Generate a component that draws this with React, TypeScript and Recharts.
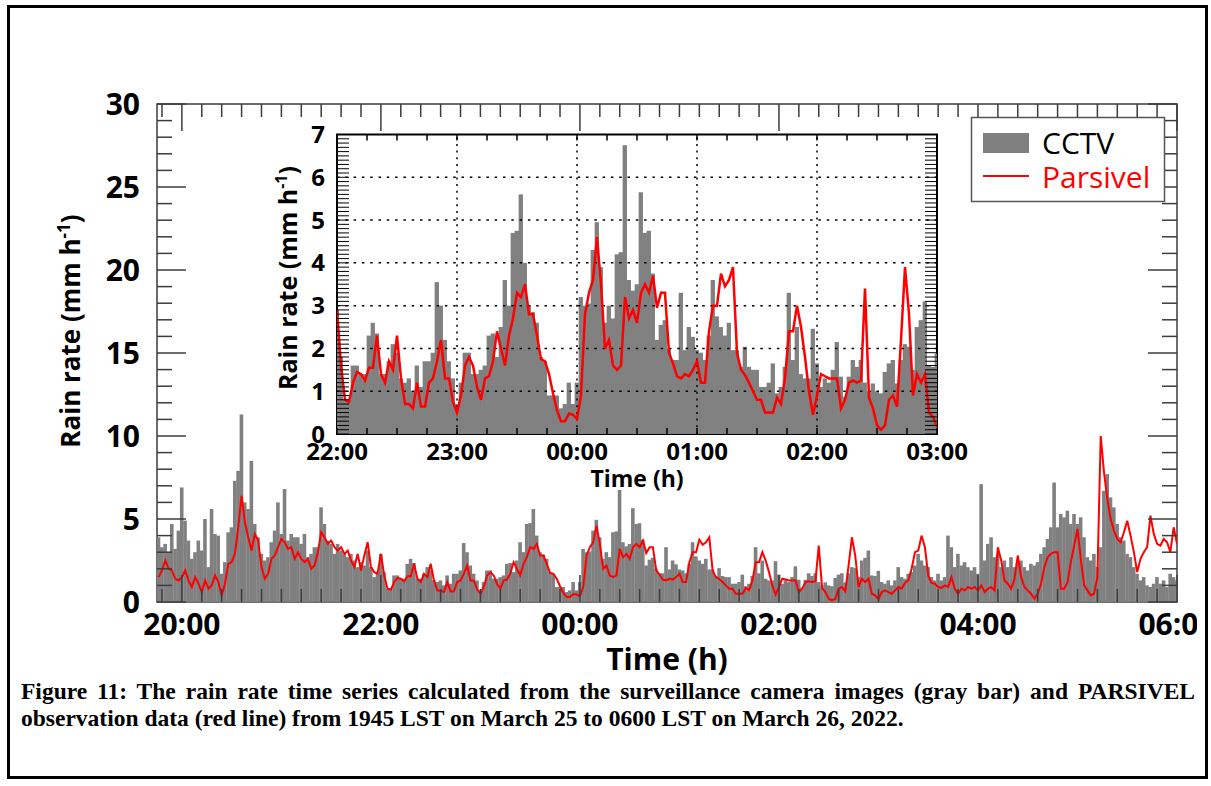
import React from 'react';
import { ComposedChart, Bar, Line, XAxis, YAxis, ReferenceLine, ReferenceArea } from 'recharts';

// time axis: minutes after 20:00, one sample every 2 minutes starting at 19:46
const START_MIN = -14;
const STEP_MIN = 2;

// CCTV rain rate (mm/h), 19:46 .. 06:00
const cctv = [
  3.9, 3.3, 3.5, 3.0, 4.7, 3.2, 4.3, 6.9, 4.9, 3.7,
  2.6, 3.0, 3.7, 3.1, 5.0, 2.1, 5.6, 4.1, 4.0, 1.7,
  2.4, 4.2, 4.5, 7.3, 7.9, 11.3, 6.0, 5.6, 8.5, 4.7,
  3.9, 2.9, 2.5, 2.7, 3.6, 4.3, 6.0, 4.1, 6.8, 3.7,
  4.1, 3.9, 3.9, 3.5, 4.1, 2.7, 2.9, 3.3, 3.3, 5.7,
  4.7, 3.7, 3.5, 2.9, 3.5, 3.1, 2.9, 2.7, 2.9, 2.5,
  2.1, 2.4, 2.2, 3.1, 2.1, 1.5, 1.7,
  2.9, 1.8, 0.8, 0.8, 1.6, 1.6, 1.4, 1.4, 2.3, 2.6,
  2.35, 1.4, 1.4, 1.7, 2.1, 1.9, 1.3, 1.2, 1.3, 1.0,
  1.6, 1.1, 1.7, 1.7, 1.9, 3.55, 3.0, 2.2, 1.7, 1.3,
  0.7, 1.2, 1.9, 1.9, 1.4, 1.4, 1.5, 1.6, 2.3, 2.35,
  1.8, 2.5, 3.6, 3.0, 4.7, 4.75, 5.6, 4.0, 3.0, 2.85,
  2.6, 1.8, 1.7, 0.9, 0.9, 0.9, 0.6, 0.7, 1.2, 0.7,
  1.2, 3.2, 3.0, 3.05, 4.3, 4.95, 3.9, 2.6, 3.0, 2.7,
  4.2, 4.25, 6.75, 3.6, 3.35, 3.5, 5.65, 4.7, 4.75, 3.75,
  2.2, 2.55, 2.66, 2.0, 1.73, 1.73, 3.3, 1.96, 2.5, 2.27,
  1.96, 1.9, 1.73, 2.3, 3.6, 2.75, 2.5, 2.3, 2.6, 1.96,
  1.96, 1.57, 2.04, 1.57, 1.5, 1.5, 1.1, 1.1, 1.2, 1.65,
  0.95, 1.1, 1.57, 3.3, 1.73, 2.5, 1.4, 1.3, 1.3, 2.46,
  1.65, 1.1, 1.3, 1.2, 1.5, 2.15, 1.34, 0.87, 1.34, 1.73,
  1.57, 1.73, 1.2, 1.0, 1.18, 1.0, 0.95, 1.45, 1.65, 1.73,
  1.18, 1.73, 2.1, 2.04, 1.5, 2.5, 2.66, 3.1, 1.6, 1.57, 1.88,
  1.2, 1.1, 1.3, 1.0, 1.3, 2.1, 1.5, 1.4, 1.7, 1.8,
  2.2, 2.9, 2.5, 2.2, 2.1, 1.5, 1.3, 1.7, 1.3, 1.5,
  4.0, 3.3, 2.1, 2.9, 2.2, 2.4, 2.1, 1.9, 2.1, 1.7,
  7.1, 2.5, 3.5, 3.9, 2.7, 2.9, 2.1, 2.5, 2.1, 2.7,
  2.1, 2.5, 2.5, 2.1, 1.9, 2.3, 2.2, 2.4, 2.9, 3.3,
  3.8, 4.5, 7.2, 4.5, 5.3, 5.1, 5.5, 4.7, 5.3, 4.7,
  5.1, 3.9, 2.7, 2.5, 2.9, 2.1, 3.3, 6.7, 7.7, 6.3,
  5.7, 4.7, 3.9, 3.7, 2.9, 2.7, 2.1, 1.7, 1.3, 1.5,
  1.0, 0.9, 1.1, 1.5, 1.1, 1.3, 0.9, 1.7, 1.5, 1.3,
];

// PARSIVEL rain rate (mm/h), same time steps
const parsivel = [
  1.5, 1.9, 2.5, 2.0, 1.9, 1.4, 1.3, 1.5, 1.9, 1.3,
  0.9, 1.5, 1.1, 0.6, 1.3, 0.8, 1.0, 1.6, 1.2, 0.4,
  1.1, 2.3, 2.4, 2.9, 4.5, 6.4, 4.8, 3.9, 3.1, 4.1,
  3.7, 2.1, 1.4, 1.7, 2.6, 2.8, 3.3, 3.8, 3.6, 3.2,
  3.3, 2.6, 3.0, 2.6, 2.4, 2.6, 2.0, 2.2, 3.0, 4.2,
  3.9, 3.5, 3.7, 3.3, 3.1, 3.3, 2.9, 3.1, 2.5, 2.1,
  2.9, 1.9, 2.8, 3.6, 2.1, 1.8, 1.7,
  2.9, 1.6, 0.8, 0.75, 1.2, 1.45, 1.4, 1.25, 1.55, 1.55,
  2.3, 1.4, 1.2, 1.7, 1.5, 2.3, 1.3, 0.7, 0.7, 0.6,
  1.2, 0.64, 0.64, 1.2, 1.3, 1.7, 2.2, 1.3, 1.3, 0.75,
  0.5, 0.9, 1.6, 1.8, 1.6, 1.1, 0.8, 1.3, 1.35, 1.7,
  2.4, 2.0, 1.6, 2.3, 2.7, 3.3, 3.2, 3.5, 2.8, 2.8,
  2.3, 1.75, 1.7, 1.4, 0.95, 0.55, 0.3, 0.3, 0.48, 0.45,
  0.35, 0.9, 2.8, 3.3, 3.6, 4.6, 3.5, 2.0, 2.2, 1.6,
  1.5, 1.6, 3.2, 2.7, 2.9, 2.6, 3.3, 3.5, 3.3, 3.7,
  2.95, 3.3, 3.3, 1.9, 1.65, 1.35, 1.3, 1.4, 1.35, 1.5,
  1.7, 1.2, 1.2, 2.4, 3.0, 3.0, 3.75, 3.45, 3.6, 3.9,
  1.9, 1.5, 1.38, 1.2, 1.0, 0.8, 0.8, 0.5, 0.5, 0.5,
  0.85, 0.7, 1.3, 2.4, 2.4, 3.0, 2.5, 1.8, 1.0, 0.45,
  0.9, 1.4, 1.35, 1.3, 1.3, 1.3, 0.6, 0.8, 1.2, 1.25,
  1.2, 1.25, 3.4, 0.85, 0.6, 0.2, 0.1, 0.2, 0.8, 0.9,
  0.64, 2.2, 3.9, 2.8, 0.9, 1.4, 1.2, 1.4, 0.5, 0.4, 0.17,
  0.6, 0.7, 0.6, 0.5, 0.7, 0.9, 0.8, 1.15, 1.3, 2.0,
  3.0, 3.1, 4.0, 3.3, 1.6, 1.15, 1.1, 0.9, 0.85, 1.0,
  0.9, 1.5, 0.8, 0.5, 0.8, 0.7, 0.9, 0.8, 0.9, 0.7,
  1.0, 0.6, 0.8, 0.9, 0.7, 3.3, 2.5, 1.3, 1.1, 0.8,
  1.4, 2.8, 1.5, 0.9, 0.7, 0.5, 0.2, 0.5, 1.1, 2.1,
  2.7, 2.9, 3.0, 3.0, 0.8, 0.8, 1.2, 2.4, 3.4, 4.4,
  2.6, 1.0, 0.7, 0.4, 0.5, 1.5, 10.0, 7.8, 6.2, 5.0,
  4.3, 3.8, 3.6, 4.2, 4.9, 4.0, 3.0, 1.8, 2.6, 3.0,
  3.3, 5.2, 4.1, 3.5, 3.4, 3.8, 3.6, 3.0, 4.5, 3.5,
];

// main axis labels
const mainMajorMinutes = [0, 120, 240, 360, 480, 600];
const mainTimeLabels = ['20:00', '22:00', '00:00', '02:00', '04:00', '06:00'];
const mainYLabels = [0, 5, 10, 15, 20, 25, 30];

// inset axis labels
const insetMajorMinutes = [120, 180, 240, 300, 360, 420];
const insetTimeLabels = ['22:00', '23:00', '00:00', '01:00', '02:00', '03:00'];
const insetYLabels = [0, 1, 2, 3, 4, 5, 6, 7];
const insetGridMinutes = [180, 240, 300, 360];
const insetGridValues = [1, 2, 3, 4, 5, 6];

const data = cctv.map((v, i) => ({ t: START_MIN + STEP_MIN * i, cctv: v, parsivel: parsivel[i] }));
const insetData = data.filter((d) => d.t >= 120 && d.t <= 420);

const range = (a: number, b: number, s: number) => {
  const out: number[] = [];
  for (let k = 0; a + k * s <= b + 1e-9; k++) out.push(Math.round((a + k * s) * 100) / 100);
  return out;
};
const mainXTicks = range(-12, 600, 12);
const mainYTicks = range(0, 30, 1);
const insetXTicks = range(120, 420, 15);
const insetYTicks = range(0, 7, 0.1);

const MAIN = { left: 157, right: 1177, top: 104, bottom: 602 };
const INSET = { left: 337, right: 937, top: 134.5, bottom: 434 };
const AXIS = '#3c3c3c';
const FONT = '"Open Sans", "Noto Sans", sans-serif';
const GRAY = '#808080';
const RED = '#ff0000';

// bar drawn around the centre the library computed, a bit wider so neighbours touch
const makeBarShape = (w: number) => (p: any) => {
  if (p == null || p.height == null || !isFinite(p.height) || p.height <= 0) return <g />;
  const cx = p.x + p.width / 2;
  return <rect x={cx - w / 2} y={p.y} width={w} height={p.height} fill={GRAY} />;
};
const mainBarShape = makeBarShape(3.6);
const insetBarShape = makeBarShape(4.3);

function MainXTick(props: any) {
  const { x, payload } = props;
  const idx = mainMajorMinutes.indexOf(payload.value);
  const len = idx >= 0 ? 27 : 13;
  return (
    <g>
      <line x1={x} x2={x} y1={MAIN.bottom} y2={MAIN.bottom - len} stroke={AXIS} strokeWidth={1.5} />
      <line x1={x} x2={x} y1={MAIN.top} y2={MAIN.top + len} stroke={AXIS} strokeWidth={1.5} />
      {idx >= 0 && (
        <text x={x} y={MAIN.bottom + 33} textAnchor="middle" fontFamily={FONT} fontWeight={700} fontSize={30} fill="#000">
          {mainTimeLabels[idx]}
        </text>
      )}
    </g>
  );
}

function MainYTick(props: any) {
  const { y, payload } = props;
  const major = mainYLabels.indexOf(payload.value) >= 0;
  const len = major ? 29 : 15;
  return (
    <g>
      <line x1={MAIN.left} x2={MAIN.left + len} y1={y} y2={y} stroke={AXIS} strokeWidth={1.5} />
      <line x1={MAIN.right - len} x2={MAIN.right} y1={y} y2={y} stroke={AXIS} strokeWidth={1.5} />
      {major && (
        <text x={140} y={y + 10.5} textAnchor="end" fontFamily={FONT} fontWeight={700} fontSize={30} fill="#000">
          {payload.value}
        </text>
      )}
    </g>
  );
}

function InsetXTick(props: any) {
  const { x, payload } = props;
  const idx = insetMajorMinutes.indexOf(payload.value);
  return (
    <g>
      <line x1={x} x2={x} y1={INSET.bottom} y2={INSET.bottom - 6} stroke="#000" strokeWidth={1.5} />
      <line x1={x} x2={x} y1={INSET.top} y2={INSET.top + 6} stroke="#000" strokeWidth={1.5} />
      {idx >= 0 && (
        <text x={x} y={INSET.bottom + 26} textAnchor="middle" fontFamily={FONT} fontWeight={700} fontSize={24} fill="#000">
          {insetTimeLabels[idx]}
        </text>
      )}
    </g>
  );
}

function InsetYTick(props: any) {
  const { y, payload } = props;
  const v = payload.value;
  const isInt = insetYLabels.indexOf(v) >= 0;
  return (
    <g>
      <line x1={INSET.left} x2={INSET.left + 12} y1={y} y2={y} stroke="#000" strokeWidth={1} />
      <line x1={INSET.right - 12} x2={INSET.right} y1={y} y2={y} stroke="#000" strokeWidth={1} />
      {isInt && (
        <text x={325} y={y + 8.5} textAnchor="end" fontFamily={FONT} fontWeight={700} fontSize={24} fill="#000">
          {v}
        </text>
      )}
    </g>
  );
}

export default function App() {
  return (
    <div style={{ position: 'absolute', left: 0, top: 0, width: 1211, height: 786, background: '#fff', overflow: 'hidden' }}>
      {/* main chart */}
      <div style={{ position: 'absolute', left: 0, top: 0, width: 1197, height: 700, overflow: 'hidden' }}>
        <ComposedChart
          width={1211}
          height={700}
          data={data}
          margin={{ top: MAIN.top, right: 1211 - MAIN.right, bottom: 700 - MAIN.bottom - 40, left: MAIN.left - 60 }}
          barCategoryGap={0}
          barGap={0}
        >
          <XAxis type="number" dataKey="t" domain={[-15, 600]} ticks={mainXTicks} interval={0} tickLine={false} axisLine={false} tickSize={0} tickMargin={0} height={40} tick={MainXTick} allowDataOverflow />
          <YAxis type="number" domain={[0, 30]} ticks={mainYTicks} interval={0} tickLine={false} axisLine={false} tickSize={0} tickMargin={0} width={60} tick={MainYTick} allowDataOverflow />
          <Bar dataKey="cctv" fill={GRAY} stroke="none" barSize={3} shape={mainBarShape} isAnimationActive={false} />
          <Line dataKey="parsivel" type="linear" stroke={RED} strokeWidth={2} dot={false} activeDot={false} isAnimationActive={false} />
          <ReferenceArea x1={-15} x2={600} y1={0} y2={30} fill="none" fillOpacity={0} stroke={AXIS} strokeWidth={1.5} ifOverflow="visible" />
        </ComposedChart>
      </div>

      {/* inset chart */}
      <div style={{ position: 'absolute', left: 0, top: 0, width: 1211, height: 786 }}>
        <ComposedChart
          width={1211}
          height={786}
          data={insetData}
          margin={{ top: INSET.top, right: 1211 - INSET.right, bottom: 786 - INSET.bottom - 30, left: INSET.left - 50 }}
          barCategoryGap={0}
          barGap={0}
        >
          <XAxis type="number" dataKey="t" domain={[120, 420]} ticks={insetXTicks} interval={0} tickLine={false} axisLine={false} tickSize={0} tickMargin={0} height={30} tick={InsetXTick} allowDataOverflow />
          <YAxis type="number" domain={[0, 7]} ticks={insetYTicks} interval={0} tickLine={false} axisLine={false} tickSize={0} tickMargin={0} width={50} tick={InsetYTick} allowDataOverflow />
          <Bar dataKey="cctv" fill={GRAY} stroke="none" barSize={4} shape={insetBarShape} isAnimationActive={false} />
          {insetGridValues.map((v) => (
            <ReferenceLine key={'h' + v} y={v} stroke="#000" strokeWidth={1.5} strokeDasharray="2.5 5.8" />
          ))}
          {insetGridMinutes.map((m) => (
            <ReferenceLine key={'v' + m} x={m} stroke="#000" strokeWidth={1.5} strokeDasharray="2 4.7" />
          ))}
          <Line dataKey="parsivel" type="linear" stroke={RED} strokeWidth={2.5} dot={false} activeDot={false} isAnimationActive={false} />
          <ReferenceArea x1={120} x2={420} y1={0} y2={7} fill="none" fillOpacity={0} stroke="#000" strokeWidth={2} ifOverflow="visible" />
        </ComposedChart>
      </div>

      {/* titles and legend */}
      <svg width={1211} height={786} style={{ position: 'absolute', left: 0, top: 0, pointerEvents: 'none' }}>
        <text transform="translate(80,331) rotate(-90)" textAnchor="middle" fontFamily={FONT} fontWeight={700} fontSize={26} fill="#000">
          Rain rate (mm h<tspan dy={-10} fontSize={17}>-1</tspan><tspan dy={10}>)</tspan>
        </text>
        <text x={667} y={670} textAnchor="middle" fontFamily={FONT} fontWeight={700} fontSize={30} fill="#000">Time (h)</text>
        <text transform="translate(297,278) rotate(-90)" textAnchor="middle" fontFamily={FONT} fontWeight={700} fontSize={25} fill="#000">
          Rain rate (mm h<tspan dy={-10} fontSize={16}>-1</tspan><tspan dy={10}>)</tspan>
        </text>
        <text x={637} y={487} textAnchor="middle" fontFamily={FONT} fontWeight={700} fontSize={23} fill="#000">Time (h)</text>

        <rect x={971.5} y={117.5} width={193} height={84} fill="#fff" stroke="#555" strokeWidth={1.5} />
        <rect x={983} y={133} width={46} height={20} fill={GRAY} />
        <text x={1042} y={154} fontFamily={FONT} fontSize={30} fill="#000">CCTV</text>
        <line x1={983} x2={1029} y1={176} y2={176} stroke={RED} strokeWidth={2} />
        <text x={1042} y={188} fontFamily={FONT} fontSize={30} fill={RED}>Parsivel</text>
      </svg>

      {/* caption */}
      <div style={{ position: 'absolute', left: 21, top: 678, width: 1174, fontFamily: '"Liberation Serif", "Times New Roman", serif', fontWeight: 700, fontSize: 23.5, lineHeight: '27px', color: '#000' }}>
        <div style={{ textAlign: 'justify', textAlignLast: 'justify', whiteSpace: 'nowrap' as any }}>
          Figure 11: The rain rate time series calculated from the surveillance camera images (gray bar) and PARSIVEL
        </div>
        <div style={{ whiteSpace: 'nowrap' as any }}>observation data (red line) from 1945 LST on March 25 to 0600 LST on March 26, 2022.</div>
      </div>

      {/* outer frame */}
      <div style={{ position: 'absolute', left: 7, top: 5, width: 1201, height: 774, border: '3px solid #000', boxSizing: 'border-box' }} />
    </div>
  );
}
